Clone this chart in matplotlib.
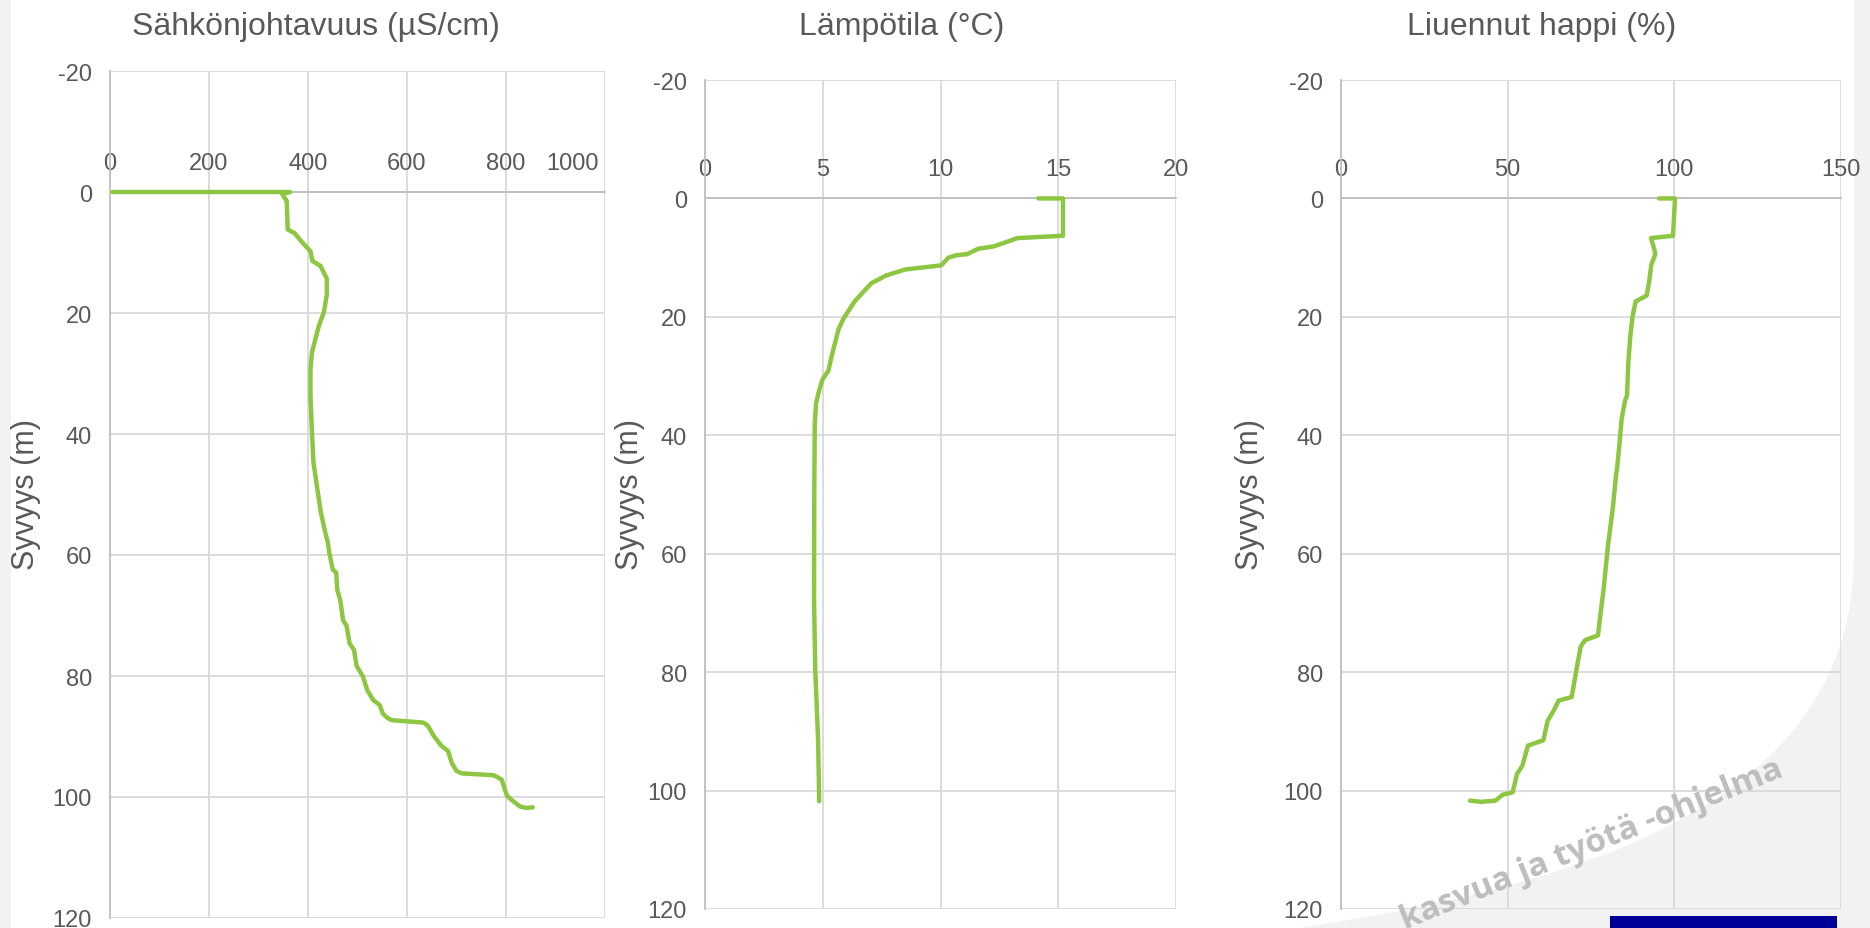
import matplotlib
matplotlib.use("Agg")
import matplotlib.pyplot as plt
import matplotlib.transforms as mtransforms
from matplotlib.patches import PathPatch, Rectangle
from matplotlib.path import Path

W, H, DPI = 1870, 929, 100
GREEN = "#8DC641"
TEXT = "#595959"
GRID = "#D9D9D9"
AXIS = "#BFBFBF"

# depth profiles
COND_DEPTH = [0, 0, 0.2, 1.5, 6.2, 6.8, 8.3, 9.8, 11.4, 12.2,
              14.3, 17.0, 19.9, 22.1, 24.3, 26.5, 29.2, 33.7, 39.7, 44.7,
              49.7, 53.0, 56.3, 57.9, 59.6, 62.4, 62.9, 65.7, 67.4, 70.8,
              71.7, 74.6, 75.7, 78.3, 80.1, 82.4, 84.0, 84.8, 86.2, 86.9,
              87.3, 87.5, 87.7, 88.2, 89.9, 91.5, 92.4, 94.3, 95.7, 96.1,
              96.4, 97.1, 99.8, 100.8, 101.6, 101.8, 101.7]
COND_VALUE = [5, 364, 347, 357, 359, 373, 388, 405, 409, 425,
              438, 438, 432, 422, 415, 408, 405, 405, 408, 411,
              420, 426, 435, 440, 443, 450, 457, 459, 465, 471,
              478, 484, 493, 498, 511, 520, 532, 545, 551, 560,
              569, 601, 633, 642, 654, 669, 683, 690, 700, 711,
              775, 791, 802, 816, 829, 841, 854]

TEMP_DEPTH = [0, 0, 6.3, 6.7, 7.4, 8.1, 8.5, 9.4, 9.6, 10.0,
              11.3, 12.0, 13.0, 14.3, 17.4, 20.3, 22.1, 26.6, 29.1, 30.5,
              32.2, 34.5, 38.0, 50.0, 67.6, 79.4, 91.2, 101.8]
TEMP_VALUE = [14.16, 15.2, 15.2, 13.27, 12.77, 12.26, 11.6, 11.14, 10.67, 10.34,
              10.03, 8.5, 7.7, 7.07, 6.35, 5.88, 5.67, 5.38, 5.24, 5.0,
              4.86, 4.72, 4.66, 4.64, 4.63, 4.68, 4.8, 4.85]

OXY_DEPTH = [0, 0, 6.3, 6.7, 8.6, 9.4, 11.2, 14.2, 16.4, 17.4,
             19.8, 23.2, 27.7, 33.3, 34.2, 37.2, 41.7, 45.7, 46.8, 52.0,
             58.6, 65.9, 70.4, 73.8, 74.6, 75.7, 79.4, 84.2, 84.8, 86.5,
             88.2, 91.5, 92.4, 95.8, 97.2, 100.3, 100.7, 101.7, 101.9, 101.7]
OXY_VALUE = [95.4, 100.2, 99.6, 93.0, 94.0, 94.3, 93.1, 92.4, 91.7, 88.4,
             87.5, 86.8, 86.2, 85.8, 85.2, 84.2, 83.5, 82.8, 82.5, 81.6,
             80.1, 78.8, 77.8, 77.1, 73.2, 71.9, 70.7, 69.2, 65.3, 63.8,
             62.0, 60.7, 56.1, 54.4, 52.8, 51.5, 48.5, 46.3, 42.1, 38.7]

TITLES = ["Sähkönjohtavuus (µS/cm)", "Lämpötila (°C)", "Liuennut happi (%)"]
YLABEL = "Syvyys (m)"
DEPTH_TICKS = [-20, 0, 20, 40, 60, 80, 100, 120]
X_TICKS = [[0, 200, 400, 600, 800, 1000], [0, 5, 10, 15, 20], [0, 50, 100, 150]]


def px_box(x0, x1, ytop, ybot):
    """axes rect in figure fractions from pixel edges (y measured from top)."""
    return [x0 / W, 1 - ybot / H, (x1 - x0) / W, (ybot - ytop) / H]


def background(fig):
    fig.add_artist(Rectangle((0, 0), 11 / W, 1, transform=fig.transFigure,
                             color="#F2F2F2", lw=0, zorder=0))
    verts = [(1854, 0), (W, 0), (W, H), (1300, H),
             (1620, 880), (1850, 790), (1854, 560), (1854, 0)]
    codes = [Path.MOVETO, Path.LINETO, Path.LINETO, Path.LINETO,
             Path.CURVE4, Path.CURVE4, Path.CURVE4, Path.LINETO]
    verts = [(x / W, 1 - y / H) for x, y in verts]
    fig.add_artist(PathPatch(Path(verts, codes), transform=fig.transFigure,
                             fc="#F2F2F2", lw=0, zorder=0))
    fig.add_artist(Rectangle((1610 / W, 0), 227 / W, 12 / H, transform=fig.transFigure,
                             color="#000099", lw=0, zorder=5))
    # logo text runs off the bottom edge in the original as well
    fig.text(1592 / W, 1 - 845 / H, "kasvua ja työtä -ohjelma", rotation=22,
             ha="center", va="center", fontsize=24, fontweight="bold",
             color="#BDBDBD", family=["Open Sans", "DejaVu Sans"], zorder=4)


def profile(fig, ax, x, depth, xticks, shift_last):
    ax.set_facecolor("none")
    ax.plot(x, depth, color=GREEN, lw=3.2, solid_joinstyle="round",
            solid_capstyle="round", zorder=3)
    ax.set_ylim(120, -20)
    ax.set_xlim(xticks[0], xticks[-1])
    ax.set_yticks(DEPTH_TICKS)
    ax.set_xticks(xticks)
    ax.xaxis.tick_top()
    ax.spines["top"].set_position(("data", 0))
    ax.spines["top"].set_color(AXIS)
    ax.spines["left"].set_color(AXIS)
    for s in ("right", "bottom"):
        ax.spines[s].set_visible(False)
    for s in ("top", "left"):
        ax.spines[s].set_linewidth(1.3)
        ax.spines[s].set_zorder(2)
    ax.grid(True, color=GRID, lw=1.3, zorder=1)
    ax.set_axisbelow(True)
    ax.tick_params(length=0, labelsize=17, labelcolor=TEXT)
    ax.tick_params(axis="y", pad=13)
    ax.tick_params(axis="x", pad=13)
    ax.set_xticklabels([str(t) for t in xticks])
    if shift_last:
        # last label is pushed back inside the chart area
        lab = ax.get_xticklabels()[-1]
        off = mtransforms.ScaledTranslation(-32 / DPI, 0, fig.dpi_scale_trans)
        lab.set_transform(lab.get_transform() + off)


def main():
    plt.rcParams["font.family"] = ["Liberation Sans", "DejaVu Sans"]
    plt.rcParams["axes.unicode_minus"] = False
    fig = plt.figure(figsize=(W / DPI, H / DPI), dpi=DPI, facecolor="white")
    background(fig)

    boxes = [px_box(110, 605, 72, 919), px_box(705, 1176, 81, 910),
             px_box(1341, 1841, 81, 910)]
    data = [(COND_VALUE, COND_DEPTH), (TEMP_VALUE, TEMP_DEPTH), (OXY_VALUE, OXY_DEPTH)]
    title_x = [316, 902, 1542]
    ylabel_x = [26, 630, 1250]
    for i in range(3):
        ax = fig.add_axes(boxes[i])
        profile(fig, ax, data[i][0], data[i][1], X_TICKS[i], shift_last=(i == 0))
        fig.text(title_x[i] / W, 1 - 27 / H, TITLES[i], ha="center", va="center",
                 fontsize=23, color=TEXT)
        fig.text(ylabel_x[i] / W, 1 - 495 / H, YLABEL, ha="center", va="center",
                 rotation=90, fontsize=22, color=TEXT)

    fig.savefig("out.png", dpi=DPI, facecolor="white")
    plt.close(fig)


if __name__ == "__main__":
    main()
